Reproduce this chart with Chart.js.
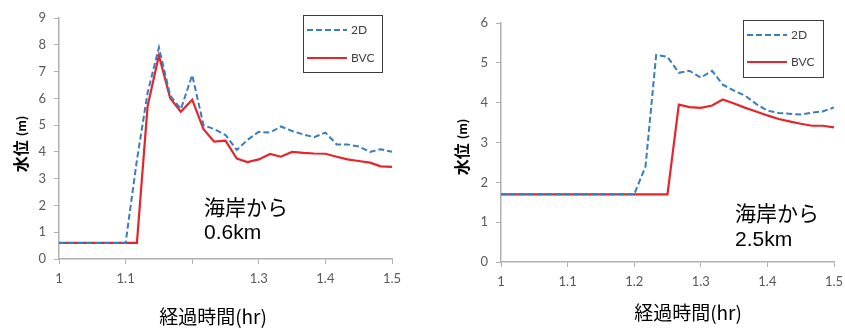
<!DOCTYPE html>
<html>
<head>
<meta charset="utf-8">
<script src="https://cdn.jsdelivr.net/npm/chart.js@4.4.1/dist/chart.umd.min.js"></script>
<style>
  body { margin: 0; background: #fff; }
  .panel { position: absolute; top: 0; width: 420px; height: 334px; }
</style>
</head>
<body>
<div class="panel" style="left:0"><canvas id="chart-left" width="420" height="334"></canvas></div>
<div class="panel" style="left:425px"><canvas id="chart-right" width="420" height="334"></canvas></div>
<script>
// --- data (time in hr, water level in m) ---
const seriesNames = ['2D', 'BVC'];

const leftTimes = [1.0, 1.1, 1.117, 1.133, 1.15, 1.167, 1.183, 1.2, 1.217, 1.233, 1.25, 1.267, 1.283,
  1.3, 1.317, 1.333, 1.35, 1.367, 1.383, 1.4, 1.417, 1.433, 1.45, 1.467, 1.483, 1.5];
const left2D = [0.6, 0.6, 3.7, 6.2, 7.9, 6.1, 5.6, 6.87, 5.0, 4.85, 4.63, 4.07, 4.45,
  4.75, 4.72, 4.95, 4.78, 4.65, 4.55, 4.72, 4.28, 4.28, 4.2, 4.0, 4.1, 4.0];
const leftBVC = [0.6, 0.6, 0.6, 5.7, 7.6, 6.0, 5.5, 5.95, 4.85, 4.38, 4.42, 3.75, 3.62,
  3.72, 3.92, 3.82, 4.0, 3.96, 3.94, 3.93, 3.82, 3.72, 3.66, 3.6, 3.46, 3.44];

const rightTimes = [1.0, 1.2, 1.217, 1.233, 1.25, 1.267, 1.283, 1.3, 1.317, 1.333,
  1.35, 1.367, 1.383, 1.4, 1.417, 1.433, 1.45, 1.467, 1.483, 1.5];
const right2D = [1.7, 1.7, 2.4, 5.2, 5.15, 4.75, 4.8, 4.63, 4.8, 4.45,
  4.3, 4.17, 3.97, 3.8, 3.74, 3.72, 3.7, 3.75, 3.78, 3.88];
const rightBVC = [1.7, 1.7, 1.7, 1.7, 1.7, 3.95, 3.89, 3.87, 3.93, 4.08,
  3.98, 3.87, 3.78, 3.68, 3.59, 3.53, 3.47, 3.42, 3.42, 3.38];

// tick labels (the left chart has no "1.2" label in the original)
const leftXTickLabels = ['1', '1.1', '', '1.3', '1.4', '1.5'];
const rightXTickLabels = ['1', '1.1', '1.2', '1.3', '1.4', '1.5'];

const yTitleMain = '水位';
const yTitleUnit = '(m)';
const xTitle = '経過時間(hr)';
const leftNote = ['海岸から', '0.6km'];
const rightNote = ['海岸から', '2.5km'];

// --- drawing ---
const BLUE = '#3a7dbd';
const RED = '#e2262c';
const AXIS = '#b0b0b0';
const TICK_FONT = { family: 'Lato, "Liberation Sans", sans-serif', size: 13 };

function toPoints(times, values) {
  return times.map((t, i) => ({ x: t, y: values[i] }));
}

// keep the plot area exactly where the layout padding puts it
function noLabelPadding(s) {
  s.paddingLeft = 0;
  s.paddingRight = 0;
  s.paddingTop = 0;
  s.paddingBottom = 0;
}

// axis titles, notes and the boxed legend
const overlayPlugin = {
  id: 'overlay',
  afterDraw(chart, args, opts) {
    const ctx = chart.ctx;
    ctx.save();
    ctx.fillStyle = '#000';

    // rotated y title: bold 水位 + smaller (m)
    ctx.save();
    ctx.translate(opts.yTitle.x, opts.yTitle.y);
    ctx.rotate(-Math.PI / 2);
    ctx.textBaseline = 'middle';
    ctx.font = 'bold 16px "Noto Sans CJK JP"';
    const w1 = ctx.measureText(yTitleMain).width;
    ctx.font = 'bold 12px "Noto Sans CJK JP"';
    const w2 = ctx.measureText(yTitleUnit).width;
    const start = -(w1 + 4 + w2) / 2;
    ctx.font = 'bold 16px "Noto Sans CJK JP"';
    ctx.textAlign = 'left';
    ctx.fillText(yTitleMain, start, 0);
    ctx.font = 'bold 12px "Noto Sans CJK JP"';
    ctx.fillText(yTitleUnit, start + w1 + 4, 0);
    ctx.restore();

    // x title
    ctx.font = '19px "Noto Sans CJK JP"';
    ctx.textAlign = 'center';
    ctx.textBaseline = 'middle';
    ctx.fillText(xTitle, opts.xTitle.x, opts.xTitle.y);

    // note text
    ctx.textAlign = 'left';
    opts.note.lines.forEach((line, i) => {
      ctx.font = i === 0 ? '21px "Noto Sans CJK JP"' : '21px "Liberation Sans", Arial, sans-serif';
      ctx.fillText(line, opts.note.x, opts.note.y + i * opts.note.gap);
    });

    // legend box
    const lg = opts.legend;
    ctx.strokeStyle = '#3c3c3c';
    ctx.lineWidth = 1;
    ctx.strokeRect(lg.x + 0.5, lg.y + 0.5, lg.w, lg.h);
    ctx.font = '12px ' + TICK_FONT.family;
    ctx.textBaseline = 'middle';
    chart.data.datasets.forEach((ds, i) => {
      const yy = lg.y + lg.rows[i];
      ctx.beginPath();
      ctx.strokeStyle = ds.borderColor;
      ctx.lineWidth = ds.borderWidth;
      ctx.setLineDash(ds.borderDash || []);
      ctx.moveTo(lg.x + 4, yy);
      ctx.lineTo(lg.x + 44, yy);
      ctx.stroke();
      ctx.setLineDash([]);
      ctx.fillStyle = '#404040';
      ctx.fillText(ds.label, lg.x + 48, yy);
    });
    ctx.restore();
  }
};

function makeChart(canvasId, cfg) {
  const ctx = document.getElementById(canvasId).getContext('2d');
  return new Chart(ctx, {
    type: 'line',
    data: {
      datasets: [
        {
          label: seriesNames[0],
          data: toPoints(cfg.times, cfg.s2d),
          borderColor: BLUE,
          borderWidth: 2,
          borderDash: [6, 3],
          pointRadius: 0,
          tension: 0,
          fill: false
        },
        {
          label: seriesNames[1],
          data: toPoints(cfg.times, cfg.bvc),
          borderColor: RED,
          borderWidth: 2.2,
          pointRadius: 0,
          tension: 0,
          fill: false
        }
      ]
    },
    options: {
      responsive: false,
      animation: false,
      layout: { padding: { left: 0, right: cfg.padRight, top: cfg.padTop, bottom: 0 } },
      plugins: {
        legend: { display: false },
        tooltip: { enabled: false },
        overlay: cfg.overlay
      },
      scales: {
        x: {
          type: 'linear',
          min: 1,
          max: 1.5,
          afterFit: s => { s.height = cfg.xAxisHeight; noLabelPadding(s); },
          afterBuildTicks: s => { s.ticks = [1, 1.1, 1.2, 1.3, 1.4, 1.5].map(v => ({ value: v })); },
          ticks: {
            font: TICK_FONT,
            color: '#595959',
            padding: 7,
            maxRotation: 0,
            callback: (v, i) => cfg.xLabels[i]
          },
          grid: { drawOnChartArea: false, drawTicks: true, tickLength: 5, color: AXIS },
          border: { color: AXIS, width: 1.5 }
        },
        y: {
          min: 0,
          max: cfg.yMax,
          afterFit: s => { s.width = cfg.yAxisWidth; noLabelPadding(s); },
          ticks: { stepSize: 1, font: TICK_FONT, color: '#595959', padding: 8 },
          grid: { drawOnChartArea: false, drawTicks: true, tickLength: 5, color: AXIS },
          border: { color: AXIS, width: 1.5 }
        }
      }
    },
    plugins: [overlayPlugin]
  });
}

makeChart('chart-left', {
  times: leftTimes, s2d: left2D, bvc: leftBVC, yMax: 9, xLabels: leftXTickLabels,
  yAxisWidth: 59, xAxisHeight: 75, padRight: 28, padTop: 18,
  overlay: {
    yTitle: { x: 21, y: 144 },
    xTitle: { x: 213, y: 317 },
    note: { x: 204, y: 207, gap: 26, lines: leftNote },
    legend: { x: 303, y: 15, w: 79, h: 57, rows: [15, 43] }
  }
});

makeChart('chart-right', {
  times: rightTimes, s2d: right2D, bvc: rightBVC, yMax: 6, xLabels: rightXTickLabels,
  yAxisWidth: 76, xAxisHeight: 72, padRight: 11, padTop: 23,
  overlay: {
    yTitle: { x: 37, y: 147 },
    xTitle: { x: 263, y: 313 },
    note: { x: 310, y: 213, gap: 27, lines: rightNote },
    legend: { x: 318, y: 20, w: 80, h: 57, rows: [15, 42] }
  }
});
</script>
</body>
</html>
